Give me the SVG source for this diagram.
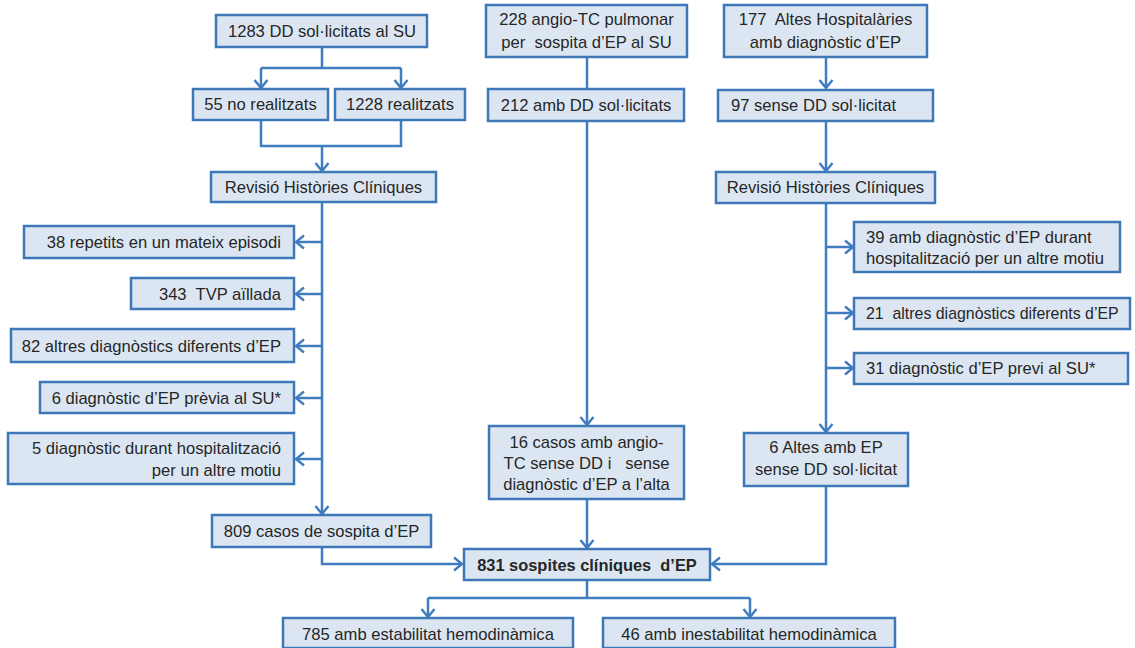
<svg xmlns="http://www.w3.org/2000/svg" width="1135" height="648" viewBox="0 0 1135 648">
  <style>
    .box { fill: #dce6f2; stroke: #3f78b8; stroke-width: 2.5; }
    .t { font-family: "Liberation Sans", Arial, sans-serif; font-size: 16.6px; fill: #262626; }
    .c { text-anchor: middle; }
    .r { text-anchor: end; }
    .b { font-weight: bold; font-size: 16.4px; }
    .s { font-size: 15.9px; }
    .ln { fill: none; stroke: #3f7cc0; stroke-width: 2.5; }
    .arr { marker-end: url(#head); }
  </style>
  <defs>
    <marker id="head" viewBox="-11 -8 13 16" refX="0" refY="0" markerWidth="13" markerHeight="16" markerUnits="userSpaceOnUse" orient="auto">
      <path d="M-8,-6.5 L0,0 L-8,6.5" fill="none" stroke="#3f7cc0" stroke-width="2.4"/>
    </marker>
  </defs>
  <rect width="1135" height="648" fill="#ffffff"/>

  <!-- connectors -->
  <g id="connectors">
    <!-- left column -->
    <path class="ln" d="M322,47 V68 M261,68 H401"/>
    <path class="ln arr" d="M261,68 V88"/>
    <path class="ln arr" d="M401,68 V88"/>
    <path class="ln" d="M261,120 V146 H401 V120"/>
    <path class="ln arr" d="M322,146 V171"/>
    <path class="ln arr" d="M322,202 V514"/>
    <path class="ln arr" d="M322,242 H296"/>
    <path class="ln arr" d="M322,294 H296"/>
    <path class="ln arr" d="M322,346 H296"/>
    <path class="ln arr" d="M322,398 H296"/>
    <path class="ln arr" d="M322,459 H296"/>
    <path class="ln arr" d="M322,547 V564 H462"/>
    <!-- middle column -->
    <path class="ln" d="M587,57 V89"/>
    <path class="ln arr" d="M587,121 V425"/>
    <path class="ln arr" d="M587,499 V548"/>
    <!-- right column -->
    <path class="ln arr" d="M826,57 V88"/>
    <path class="ln arr" d="M826,121 V171"/>
    <path class="ln arr" d="M826,203 V432"/>
    <path class="ln arr" d="M826,247 H853"/>
    <path class="ln arr" d="M826,313 H853"/>
    <path class="ln arr" d="M826,368 H853"/>
    <path class="ln arr" d="M826,486 V564 H712"/>
    <!-- bottom split -->
    <path class="ln" d="M587,580 V598 M428,598 H750"/>
    <path class="ln arr" d="M428,598 V617"/>
    <path class="ln arr" d="M750,598 V617"/>
  </g>

  <!-- left column nodes -->
  <g id="n1283">
    <rect class="box" x="216" y="15" width="211" height="32"/>
    <text class="t c" x="322" y="37">1283 DD sol·licitats al SU</text>
  </g>
  <g id="n55">
    <rect class="box" x="193" y="89" width="135" height="31"/>
    <text class="t c" x="260.5" y="110">55 no realitzats</text>
  </g>
  <g id="n1228">
    <rect class="box" x="335" y="89" width="130" height="31"/>
    <text class="t c" x="400" y="110">1228 realitzats</text>
  </g>
  <g id="nRevisioL">
    <rect class="box" x="211" y="172" width="225" height="30"/>
    <text class="t c" x="323.5" y="193">Revisió Històries Clíniques</text>
  </g>
  <g id="n38">
    <rect class="box" x="24" y="226" width="270" height="32"/>
    <text class="t r" x="281" y="248">38 repetits en un mateix episodi</text>
  </g>
  <g id="n343">
    <rect class="box" x="131" y="278" width="163" height="31"/>
    <text class="t r" x="281" y="300" xml:space="preserve">343  TVP aïllada</text>
  </g>
  <g id="n82">
    <rect class="box" x="11" y="329" width="283" height="33"/>
    <text class="t r" x="281" y="352">82 altres diagnòstics diferents d’EP</text>
  </g>
  <g id="n6prev">
    <rect class="box" x="40" y="382" width="254" height="31"/>
    <text class="t r" x="281" y="404">6 diagnòstic d’EP prèvia al SU*</text>
  </g>
  <g id="n5">
    <rect class="box" x="8" y="433" width="286" height="51"/>
    <text class="t r" x="281" y="454">5 diagnòstic durant hospitalització</text>
    <text class="t r" x="281" y="476">per un altre motiu</text>
  </g>
  <g id="n809">
    <rect class="box" x="212" y="515" width="219" height="32"/>
    <text class="t c" x="321.5" y="537">809 casos de sospita d’EP</text>
  </g>

  <!-- middle column nodes -->
  <g id="n228">
    <rect class="box" x="486" y="5" width="201" height="52"/>
    <text class="t c" x="586.5" y="25">228 angio-TC pulmonar</text>
    <text class="t c" x="586.5" y="48" xml:space="preserve">per  sospita d’EP al SU</text>
  </g>
  <g id="n212">
    <rect class="box" x="488" y="89" width="196" height="32"/>
    <text class="t c" x="586" y="111">212 amb DD sol·licitats</text>
  </g>
  <g id="n16">
    <rect class="box" x="489" y="426" width="195" height="73"/>
    <text class="t c" x="586.5" y="448">16 casos amb angio-</text>
    <text class="t c" x="586.5" y="469" xml:space="preserve">TC sense DD i   sense</text>
    <text class="t c" x="586.5" y="490">diagnòstic d’EP a l’alta</text>
  </g>

  <!-- right column nodes -->
  <g id="n177">
    <rect class="box" x="724" y="5" width="203" height="52"/>
    <text class="t c" x="825.5" y="25" xml:space="preserve">177  Altes Hospitalàries</text>
    <text class="t c" x="825.5" y="48">amb diagnòstic d’EP</text>
  </g>
  <g id="n97">
    <rect class="box" x="718" y="90" width="215" height="31"/>
    <text class="t" x="731" y="111">97 sense DD sol·licitat</text>
  </g>
  <g id="nRevisioR">
    <rect class="box" x="716" y="172" width="219" height="31"/>
    <text class="t c" x="825.5" y="193">Revisió Històries Clíniques</text>
  </g>
  <g id="n39">
    <rect class="box" x="854" y="222" width="266" height="50"/>
    <text class="t" x="866" y="243">39 amb diagnòstic d’EP durant</text>
    <text class="t" x="866" y="264">hospitalització per un altre motiu</text>
  </g>
  <g id="n21">
    <rect class="box" x="854" y="298" width="276" height="31"/>
    <text class="t s" x="866" y="319" xml:space="preserve">21  altres diagnòstics diferents d’EP</text>
  </g>
  <g id="n31">
    <rect class="box" x="854" y="353" width="274" height="31"/>
    <text class="t" x="866" y="374">31 diagnòstic d’EP previ al SU*</text>
  </g>
  <g id="n6altes">
    <rect class="box" x="744" y="433" width="164" height="53"/>
    <text class="t c" x="826" y="453">6 Altes amb EP</text>
    <text class="t c" x="826" y="475">sense DD sol·licitat</text>
  </g>

  <!-- merge and outcome nodes -->
  <g id="n831">
    <rect class="box" x="464" y="549" width="246" height="31"/>
    <text class="t c b" x="587" y="571" xml:space="preserve">831 sospites clíniques  d’EP</text>
  </g>
  <g id="n785">
    <rect class="box" x="283" y="618" width="290" height="30"/>
    <text class="t c" x="428" y="640">785 amb estabilitat hemodinàmica</text>
  </g>
  <g id="n46">
    <rect class="box" x="603" y="618" width="292" height="30"/>
    <text class="t c" x="749" y="640">46 amb inestabilitat hemodinàmica</text>
  </g>
</svg>
